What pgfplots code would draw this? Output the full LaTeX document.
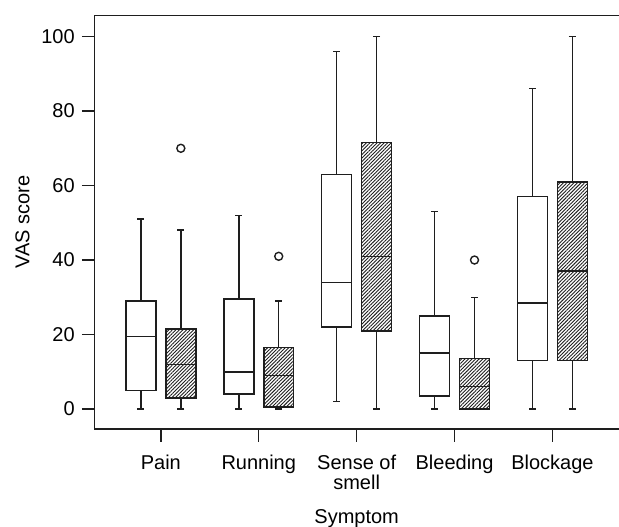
\documentclass[border=0pt]{standalone}
\usepackage{fontspec}
\setmainfont{Liberation Sans}
\usepackage{pgfplots}
\pgfplotsset{compat=1.18}
\usepgfplotslibrary{statistics}
\usetikzlibrary{patterns.meta}
\definecolor{ink}{HTML}{1E1E1E}
\tikzset{
  wb/.style={draw=ink, fill=white, line width=0.75pt, mark=o, mark size=2pt, mark options={line width=0.7pt}},
  hb/.style={draw=ink, pattern={Lines[angle=45,distance=1.25pt,line width=0.45pt]}, pattern color=ink, line width=0.75pt, mark=o, mark size=2pt, mark options={line width=0.7pt}}
}
\begin{document}
\begin{tikzpicture}
\begin{axis}[
  name=ax,
  scale only axis,
  width=262.35pt, height=206.65pt,
  xmin=0.32, xmax=5.68,
  ymin=-5.37, ymax=105.6,
  axis x line*=bottom, axis y line*=left,
  axis line style={line width=0.7pt, ink},
  tick style={line width=0.7pt, ink},
  tick align=outside,
  major tick length=6.25pt,
  xtick={1,2,3,4,5},
  xticklabels={Pain,Running,{Sense of\\smell},Bleeding,Blockage},
  xticklabel style={align=center, font=\fontsize{10}{10.3}\selectfont},
  xticklabel shift=3pt,
  ytick={0,20,40,60,80,100},
  yticklabel style={font=\fontsize{10}{12}\selectfont},
  /pgf/number format/assume math mode=true,
  ylabel={VAS score},
  xlabel={Symptom},
  every axis y label/.style={at={(rel axis cs:0,0.5)}, xshift=-35.9pt, rotate=90, anchor=center, font=\fontsize{10}{12}\selectfont},
  every axis x label/.style={at={(rel axis cs:0.5,0)}, anchor=base, yshift=-47pt, font=\fontsize{10}{12}\selectfont},
  boxplot/draw direction=y,
  boxplot/box extend=0.306,
  boxplot/whisker extend=0.07,
  clip=false,
]
% white boxes
\addplot[wb, boxplot prepared={draw position=0.796, lower whisker=0, lower quartile=5, median=19.5, upper quartile=29, upper whisker=51}] coordinates {};
\addplot[wb, boxplot prepared={draw position=1.796, lower whisker=0, lower quartile=4, median=10, upper quartile=29.6, upper whisker=52}] coordinates {};
\addplot[wb, boxplot prepared={draw position=2.796, lower whisker=2, lower quartile=22, median=34, upper quartile=63, upper whisker=96}] coordinates {};
\addplot[wb, boxplot prepared={draw position=3.796, lower whisker=0, lower quartile=3.5, median=15, upper quartile=25, upper whisker=53}] coordinates {};
\addplot[wb, boxplot prepared={draw position=4.796, lower whisker=0, lower quartile=13, median=28.5, upper quartile=57, upper whisker=86}] coordinates {};
% hatched boxes
\addplot[hb, boxplot prepared={draw position=1.204, lower whisker=0, lower quartile=3, median=12, upper quartile=21.5, upper whisker=48}] coordinates {(0,70)};
\addplot[hb, boxplot prepared={draw position=2.204, lower whisker=0, lower quartile=0.6, median=9, upper quartile=16.5, upper whisker=29}] coordinates {(0,41)};
\addplot[hb, boxplot prepared={draw position=3.204, lower whisker=0, lower quartile=21, median=41, upper quartile=71.5, upper whisker=100}] coordinates {};
\addplot[hb, boxplot prepared={draw position=4.204, lower whisker=0, lower quartile=0, median=6, upper quartile=13.5, upper whisker=30}] coordinates {(0,40)};
\addplot[hb, boxplot prepared={draw position=5.204, lower whisker=0, lower quartile=13, median=37, upper quartile=61, upper whisker=100}] coordinates {};
\end{axis}
\draw[line width=0.7pt, ink] (ax.north west) -- (ax.north east);
\pgfresetboundingbox
\path ([xshift=-47.15pt,yshift=-49pt]ax.south west) rectangle ([yshift=7.85pt]ax.north east);
\end{tikzpicture}
\end{document}
